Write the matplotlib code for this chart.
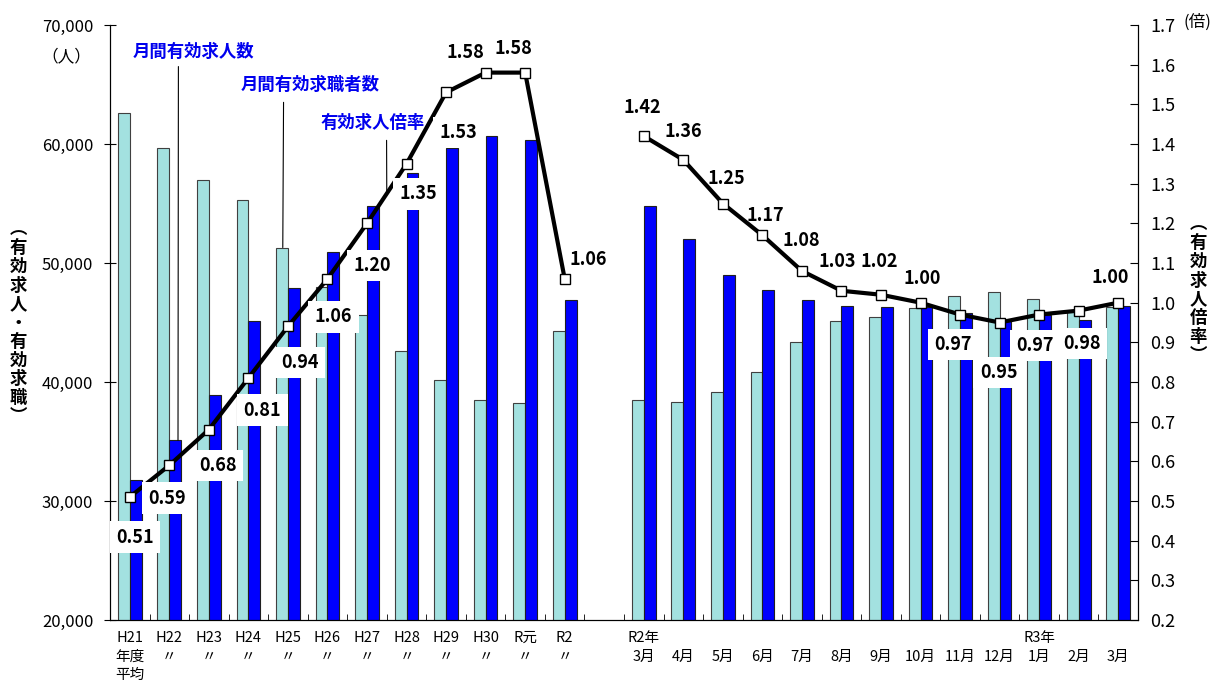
import numpy as np
import matplotlib
matplotlib.use("Agg")
import matplotlib.pyplot as plt

plt.rcParams["font.family"] = ["Noto Sans CJK JP", "DejaVu Sans"]

# 年度平均
year_labels = ["H21\n年度\n平均", "H22\n〃", "H23\n〃", "H24\n〃", "H25\n〃", "H26\n〃",
               "H27\n〃", "H28\n〃", "H29\n〃", "H30\n〃", "R元\n〃", "R2\n〃"]
year_seekers = [62600, 59700, 57000, 55300, 51300, 48000, 45600, 42600, 40200, 38500, 38200, 44300]
year_offers = [31800, 35100, 38900, 45100, 47900, 50900, 54800, 57600, 59700, 60700, 60300, 46900]
year_ratio = [0.51, 0.59, 0.68, 0.81, 0.94, 1.06, 1.20, 1.35, 1.53, 1.58, 1.58, 1.06]

# 月別
month_labels = ["R2年\n3月", "\n4月", "\n5月", "\n6月", "\n7月", "\n8月", "\n9月", "\n10月",
                "\n11月", "\n12月", "R3年\n1月", "\n2月", "\n3月"]
month_seekers = [38500, 38300, 39200, 40800, 43400, 45100, 45500, 46200, 47200, 47600, 47000, 46000, 46300]
month_offers = [54800, 52000, 49000, 47700, 46900, 46400, 46300, 46300, 45800, 45200, 45600, 45200, 46400]
month_ratio = [1.42, 1.36, 1.25, 1.17, 1.08, 1.03, 1.02, 1.00, 0.97, 0.95, 0.97, 0.98, 1.00]

# ラベル位置（ピクセル単位のオフセット）
year_offsets = [(5, -40), (-2, -33), (9, -36), (14, -32), (12, -36), (6, -38), (5, -42),
                (12, -30), (12, -40), (-20, 20), (-12, 24), (24, 19)]
month_offsets = [(-1, 29), (0, 28), (4, 25), (3, 20), (-1, 30), (-4, 29), (-2, 33), (2, 24),
                 (-7, -30), (-1, -50), (-4, -31), (3, -33), (-8, 25)]

x_year = np.arange(len(year_labels))
x_month = np.arange(len(month_labels)) + len(year_labels) + 1

fig = plt.figure(figsize=(12.15, 6.89), dpi=100)
ax = fig.add_axes([110 / 1215, 1 - 620 / 689, 1028 / 1215, 595 / 689])
ax2 = ax.twinx()

bw = 0.3
light = "#A3E1E0"
dark = "#0000FF"
for xs, seekers, offers in [(x_year, year_seekers, year_offers), (x_month, month_seekers, month_offers)]:
    ax.bar(xs - bw / 2, seekers, width=bw, color=light, edgecolor="#404040", linewidth=0.8)
    ax.bar(xs + bw / 2, offers, width=bw, color=dark, edgecolor="#202020", linewidth=0.8)

ax.set_xlim(-0.5, 25.5)
ax.set_ylim(20000, 70000)
ax.set_yticks(np.arange(20000, 70001, 10000))
ax.set_yticklabels([f"{v:,}" for v in range(20000, 70001, 10000)], fontsize=12)
ax.tick_params(axis="y", direction="inout", length=8, pad=8)

ax.set_xticks(list(x_year) + list(x_month))
ax.set_xticklabels(year_labels + month_labels, fontsize=10.5, linespacing=1.4, va="top")
ax.tick_params(axis="x", length=0, pad=8)
ax.set_xticks(np.arange(-0.5, 25.6, 1), minor=True)
ax.tick_params(axis="x", which="minor", direction="in", length=4)

ax.spines["top"].set_visible(False)
ax2.spines["top"].set_visible(False)

# 有効求人倍率
for xs, ratio, offs in [(x_year, year_ratio, year_offsets), (x_month, month_ratio, month_offsets)]:
    ax2.plot(xs, ratio, color="black", linewidth=3, marker="s", markersize=7,
             markerfacecolor="white", markeredgecolor="black", markeredgewidth=1, zorder=3)
    for xv, r, (dx, dy) in zip(xs, ratio, offs):
        box = dict(boxstyle="square,pad=0.35", fc="white", ec="none") if dy < 0 else None
        ax2.annotate(f"{r:.2f}", xy=(xv, r), xytext=(dx, dy), textcoords="offset pixels",
                     ha="center", va="center", fontsize=13, fontweight="bold",
                     bbox=box, zorder=4)

ax2.set_ylim(0.2, 1.7)
ax2.set_yticks(np.arange(0.2, 1.71, 0.1))
ax2.set_yticklabels([f"{v:.1f}" for v in np.arange(0.2, 1.71, 0.1)], fontsize=13)
ax2.tick_params(axis="y", direction="in", length=6, pad=9)

# 凡例代わりの注記
ax.annotate("月間有効求人数", xy=(1.22, year_offers[1]), xytext=(193, 637),
            textcoords="figure pixels", ha="center", va="center", color="#0000EE",
            fontsize=12.5, fontweight="bold",
            arrowprops=dict(arrowstyle="-", color="black", lw=0.8, relpos=(0.38, 0), shrinkA=2, shrinkB=0))
ax.annotate("月間有効求職者数", xy=(3.87, year_seekers[4]), xytext=(310, 604),
            textcoords="figure pixels", ha="center", va="center", color="#0000EE",
            fontsize=12.5, fontweight="bold",
            arrowprops=dict(arrowstyle="-", color="black", lw=0.8, relpos=(0.31, 0), shrinkA=4, shrinkB=0))
ax2.annotate("有効求人倍率", xy=(6.5, 1.28), xytext=(373, 566),
             textcoords="figure pixels", ha="center", va="center", color="#0000EE",
             fontsize=12.5, fontweight="bold",
             arrowprops=dict(arrowstyle="-", color="black", lw=0.8, relpos=(0.63, 0), shrinkA=4, shrinkB=0))

# 軸ラベル
fig.text(18 / 1215, 1 - 323 / 689, "\n".join("︵有効求人・有効求職︶"), ha="center", va="center",
         fontsize=12.5, fontweight="bold", linespacing=1.05)
fig.text(1198 / 1215, 1 - 290 / 689, "\n".join("︵有効求人倍率︶"), ha="center", va="center",
         fontsize=12.5, fontweight="bold", linespacing=1.05)
fig.text(66 / 1215, 1 - 57 / 689, "（人）", ha="center", va="center", fontsize=12)
fig.text(1197 / 1215, 1 - 22 / 689, "(倍)", ha="center", va="center", fontsize=12)

fig.savefig("out.png", dpi=100)
